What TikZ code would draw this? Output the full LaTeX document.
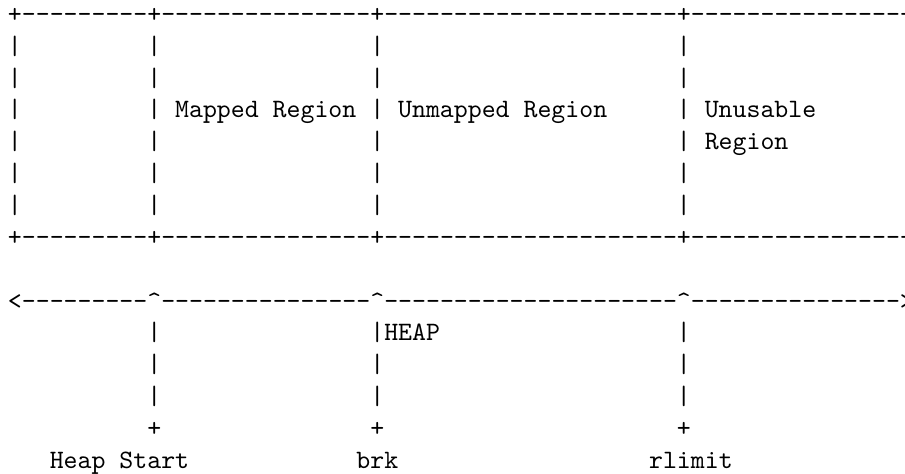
\documentclass[tikz,border=0pt]{standalone}
\usepackage{fontspec}
\newlength\chw \setlength\chw{5.25pt}
\newcommand\sk[1]{\hspace*{#1\chw}}
\tikzset{
  asciiline/.style={anchor=base west, inner sep=0pt, outer sep=0pt, font=\ttfamily\fontsize{10pt}{12pt}\selectfont, text=black},
}
\newcommand\rowy[1]{-8.4pt-#1*12pt}
\begin{document}
\begin{tikzpicture}
\useasboundingbox[fill=white] (0,0) rectangle (340.9pt,-178.5pt);
\clip (0,0) rectangle (340.9pt,-178.5pt);
\node[asciiline] (r0) at (3pt,{\rowy{0}}) {+---------+---------------+---------------------+----------------};
\node[asciiline] (r1) at (3pt,{\rowy{1}}) {|\sk{9}|\sk{15}|\sk{21}|};
\node[asciiline] (r2) at (3pt,{\rowy{2}}) {|\sk{9}|\sk{15}|\sk{21}|};
\node[asciiline] (r3) at (3pt,{\rowy{3}}) {|\sk{9}|\sk{1}Mapped Region\sk{1}|\sk{1}Unmapped Region\sk{5}|\sk{1}Unusable};
\node[asciiline] (r4) at (3pt,{\rowy{4}}) {|\sk{9}|\sk{15}|\sk{21}|\sk{1}Region};
\node[asciiline] (r5) at (3pt,{\rowy{5}}) {|\sk{9}|\sk{15}|\sk{21}|};
\node[asciiline] (r6) at (3pt,{\rowy{6}}) {|\sk{9}|\sk{15}|\sk{21}|};
\node[asciiline] (r7) at (3pt,{\rowy{7}}) {+---------+---------------+---------------------+----------------};
\node[asciiline] (r9) at (3pt,{\rowy{9}}) {<---------\textasciicircum---------------\textasciicircum---------------------\textasciicircum--------------->};
\node[asciiline] (r10) at (3pt,{\rowy{10}}) {\sk{10}|\sk{15}|HEAP\sk{17}|};
\node[asciiline] (r11) at (3pt,{\rowy{11}}) {\sk{10}|\sk{15}|\sk{21}|};
\node[asciiline] (r12) at (3pt,{\rowy{12}}) {\sk{10}|\sk{15}|\sk{21}|};
\node[asciiline] (r13) at (3pt,{\rowy{13}}) {\sk{10}+\sk{15}+\sk{21}+};
\node[asciiline] (r14) at (3pt,{\rowy{14}}) {\sk{3}Heap Start\sk{12}brk\sk{18}rlimit};
\end{tikzpicture}
\end{document}
